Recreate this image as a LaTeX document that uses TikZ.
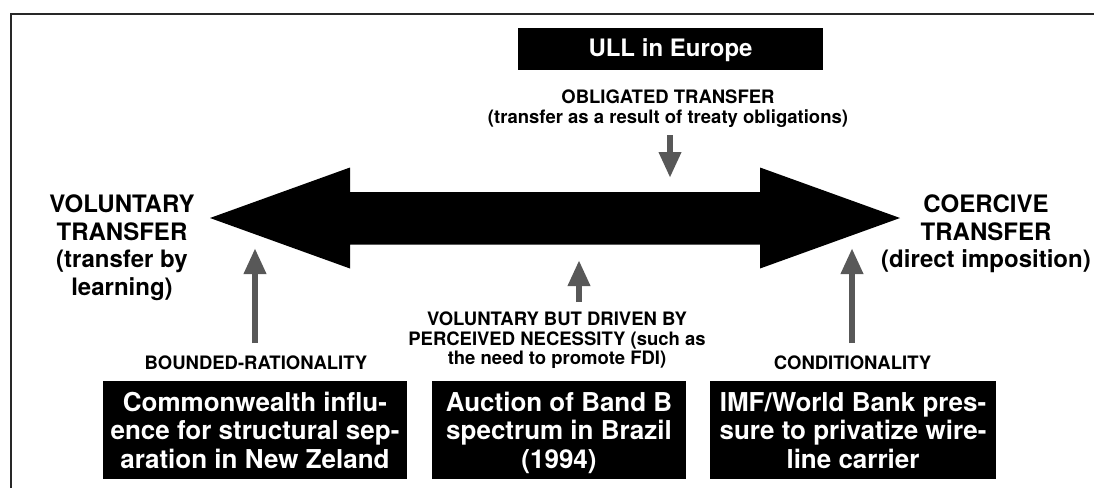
\documentclass[tikz,border=0pt]{standalone}
\usepackage{fontspec}
\setmainfont{TeX Gyre Heros}
\usetikzlibrary{arrows.meta}
\definecolor{arrowgray}{RGB}{88,88,88}
\definecolor{framegray}{RGB}{40,40,40}
\begin{document}
\begin{tikzpicture}[x=1pt,y=-1pt,
  darkbox/.style={fill=black, draw=none, inner sep=0pt},
  boxtext/.style={text=white, font=\fontsize{26}{28.5}\selectfont\bfseries, align=center, inner sep=0pt, anchor=base},
  biglabel/.style={font=\fontsize{24}{27.5}\selectfont\bfseries, align=center, inner sep=0pt, anchor=base},
  smalllabel/.style={font=\fontsize{18.5}{19.5}\selectfont\bfseries, align=center, inner sep=0pt, anchor=base},
  grayarrow/.style={draw=arrowgray, line width=6.5pt, -{Triangle[length=26pt 0 0, width=21pt 0 0, color=arrowgray]}}
]
\useasboundingbox (0,0) rectangle (1094,488);
% frame (top and left edges only)
\draw[framegray, line width=1.6pt] (11,488) -- (11,14) -- (1094,14);

% big double arrow
\fill[black] (210,218) -- (350,167.5) -- (350,192) -- (760,192) -- (760,167.5)
  -- (900,218) -- (760,268.5) -- (760,244.5) -- (350,244.5) -- (350,268.5) -- cycle;

% top box and label
\node[darkbox, minimum width=305pt, minimum height=42pt, text=white,
  font=\fontsize{24}{27}\selectfont\bfseries, text height=15.4pt, text depth=0pt] (ull) at (670.5,49) {ULL in Europe};
\node[smalllabel] (obl) at (668,123.1) {OBLIGATED TRANSFER\\(transfer as a result of treaty obligations)};

% side labels
\node[biglabel] (vol) at (122,295.1) {VOLUNTARY\\TRANSFER\\(transfer by\\learning)};
\node[biglabel] (coe) at (986,267.6) {COERCIVE\\TRANSFER\\(direct imposition)};

% lower labels
\node[smalllabel] (mid) at (557,364.7) {VOLUNTARY BUT DRIVEN BY\\PERCEIVED NECESSITY (such as\\the need to promote FDI)};
\node[smalllabel] (bnd) at (256,369.5) {BOUNDED-RATIONALITY};
\node[smalllabel] (cnd) at (852.5,369.5) {CONDITIONALITY};

% bottom boxes
\node[darkbox, minimum width=304pt, minimum height=98pt] (b1) at (255,430) {};
\node[boxtext] (t1) at (255,468) {Commonwealth influ-\\ence for structural sep-\\aration in New Zeland};
\node[darkbox, minimum width=254pt, minimum height=98pt] (b2) at (559,430) {};
\node[boxtext] (t2) at (559,468) {Auction of Band B\\spectrum in Brazil\\(1994)};
\node[darkbox, minimum width=286pt, minimum height=98pt] (b3) at (853,430) {};
\node[boxtext] (t3) at (853,468) {IMF/World Bank pres-\\sure to privatize wire-\\line carrier};

% gray arrows
\coordinate (dA) at (670,135); \coordinate (dB) at (670,178);
\coordinate (lA) at (255,343); \coordinate (lB) at (255,248);
\coordinate (mA) at (579,302); \coordinate (mB) at (579,260);
\coordinate (rA) at (852,343); \coordinate (rB) at (852,248);
\draw[grayarrow] (dA) -- (dB);
\draw[grayarrow] (lA) -- (lB);
\draw[grayarrow] (mA) -- (mB);
\draw[grayarrow] (rA) -- (rB);
\end{tikzpicture}
\end{document}
